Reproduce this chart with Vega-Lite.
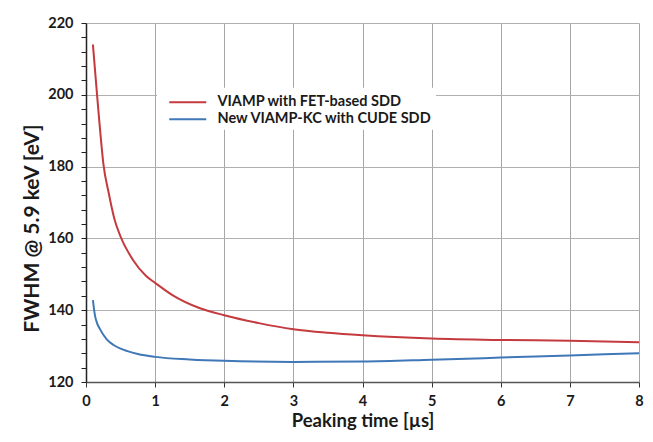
{
  "$schema": "https://vega.github.io/schema/vega-lite/v6.json",
  "width": 553,
  "height": 359,
  "autosize": "none",
  "padding": {"left": 86, "top": 23, "right": 14, "bottom": 60},
  "background": "white",
  "config": {
    "view": {"stroke": null},
    "font": "Lato",
    "axis": {"labelFont": "Lato", "titleFont": "Lato", "labelFontWeight": "bold", "titleFontWeight": "bold", "labelColor": "#1a1a1a", "titleColor": "#1a1a1a"}
  },
  "data": {"values": [
    {"t": 0.1, "fwhm": 214.0, "s": "VIAMP with FET-based SDD"},
    {"t": 0.16, "fwhm": 200.0, "s": "VIAMP with FET-based SDD"},
    {"t": 0.2, "fwhm": 191.0, "s": "VIAMP with FET-based SDD"},
    {"t": 0.25, "fwhm": 181.0, "s": "VIAMP with FET-based SDD"},
    {"t": 0.33, "fwhm": 172.5, "s": "VIAMP with FET-based SDD"},
    {"t": 0.41, "fwhm": 165.5, "s": "VIAMP with FET-based SDD"},
    {"t": 0.5, "fwhm": 160.5, "s": "VIAMP with FET-based SDD"},
    {"t": 0.68, "fwhm": 154.0, "s": "VIAMP with FET-based SDD"},
    {"t": 0.87, "fwhm": 149.5, "s": "VIAMP with FET-based SDD"},
    {"t": 1.0, "fwhm": 147.6, "s": "VIAMP with FET-based SDD"},
    {"t": 1.25, "fwhm": 144.2, "s": "VIAMP with FET-based SDD"},
    {"t": 1.64, "fwhm": 140.6, "s": "VIAMP with FET-based SDD"},
    {"t": 2.0, "fwhm": 138.6, "s": "VIAMP with FET-based SDD"},
    {"t": 2.5, "fwhm": 136.4, "s": "VIAMP with FET-based SDD"},
    {"t": 3.0, "fwhm": 134.7, "s": "VIAMP with FET-based SDD"},
    {"t": 3.5, "fwhm": 133.7, "s": "VIAMP with FET-based SDD"},
    {"t": 4.0, "fwhm": 133.0, "s": "VIAMP with FET-based SDD"},
    {"t": 5.0, "fwhm": 132.1, "s": "VIAMP with FET-based SDD"},
    {"t": 6.0, "fwhm": 131.7, "s": "VIAMP with FET-based SDD"},
    {"t": 7.0, "fwhm": 131.5, "s": "VIAMP with FET-based SDD"},
    {"t": 8.0, "fwhm": 131.1, "s": "VIAMP with FET-based SDD"},
    {"t": 0.1, "fwhm": 142.8, "s": "New VIAMP-KC with CUDE SDD"},
    {"t": 0.13, "fwhm": 138.5, "s": "New VIAMP-KC with CUDE SDD"},
    {"t": 0.16, "fwhm": 136.4, "s": "New VIAMP-KC with CUDE SDD"},
    {"t": 0.2, "fwhm": 134.8, "s": "New VIAMP-KC with CUDE SDD"},
    {"t": 0.3, "fwhm": 131.9, "s": "New VIAMP-KC with CUDE SDD"},
    {"t": 0.4, "fwhm": 130.3, "s": "New VIAMP-KC with CUDE SDD"},
    {"t": 0.5, "fwhm": 129.3, "s": "New VIAMP-KC with CUDE SDD"},
    {"t": 0.6, "fwhm": 128.6, "s": "New VIAMP-KC with CUDE SDD"},
    {"t": 0.75, "fwhm": 127.8, "s": "New VIAMP-KC with CUDE SDD"},
    {"t": 1.0, "fwhm": 127.0, "s": "New VIAMP-KC with CUDE SDD"},
    {"t": 1.5, "fwhm": 126.3, "s": "New VIAMP-KC with CUDE SDD"},
    {"t": 2.0, "fwhm": 125.9, "s": "New VIAMP-KC with CUDE SDD"},
    {"t": 3.0, "fwhm": 125.6, "s": "New VIAMP-KC with CUDE SDD"},
    {"t": 4.0, "fwhm": 125.7, "s": "New VIAMP-KC with CUDE SDD"},
    {"t": 5.0, "fwhm": 126.2, "s": "New VIAMP-KC with CUDE SDD"},
    {"t": 6.0, "fwhm": 126.8, "s": "New VIAMP-KC with CUDE SDD"},
    {"t": 7.0, "fwhm": 127.4, "s": "New VIAMP-KC with CUDE SDD"},
    {"t": 8.0, "fwhm": 128.0, "s": "New VIAMP-KC with CUDE SDD"}
  ]},
  "mark": {"type": "line", "interpolate": "monotone", "strokeWidth": 2},
  "encoding": {
    "x": {
      "field": "t", "type": "quantitative",
      "scale": {"domain": [0, 8], "nice": false},
      "axis": {
        "title": "Peaking time [µs]", "titleFontSize": 18.5, "titlePadding": 4,
        "values": [0, 1, 2, 3, 4, 5, 6, 7, 8], "format": "d",
        "labelFontSize": 14.5, "labelPadding": 7, "tickSize": 5, "tickColor": "#333", "domainColor": "#555", "domainWidth": 1.5,
        "gridColor": "#a6a6a6", "gridWidth": 1, "labelFlush": false
      }
    },
    "y": {
      "field": "fwhm", "type": "quantitative",
      "scale": {"domain": [120, 220], "nice": false, "zero": false},
      "axis": {
        "title": "FWHM @ 5.9 keV [eV]", "titleFontSize": 21, "titleX": -54, "titleY": 205, "titleBaseline": "middle", "titleAlign": "center",
        "values": [120, 124, 128, 132, 136, 140, 144, 148, 152, 156, 160, 164, 168, 172, 176, 180, 184, 188, 192, 196, 200, 204, 208, 212, 216, 220],
        "labelExpr": "datum.value % 20 === 0 ? datum.label : ''",
        "labelFontSize": 14.5, "labelPadding": 8, "tickSize": 5, "tickColor": "#222", "domainColor": "#222", "domainWidth": 1.5,
        "gridColor": "#b0b0b0", "gridWidth": 1,
        "gridOpacity": {"condition": {"test": "datum.value % 20 === 0", "value": 1}, "value": 0},
        "labelFlush": false
      }
    },
    "color": {
      "field": "s", "type": "nominal",
      "scale": {"domain": ["VIAMP with FET-based SDD", "New VIAMP-KC with CUDE SDD"], "range": ["#c43a3e", "#3f77b7"]},
      "legend": {
        "title": null, "orient": "none", "legendX": 71, "legendY": 64.75,
        "fillColor": "white", "padding": 4, "symbolOffset": 16.25, "symbolType": "M-2,0H2", "symbolSize": 342, "symbolStrokeWidth": 2,
        "labelFont": "Lato", "labelFontWeight": "bold", "labelFontSize": 14.5, "labelColor": "#1a1a1a", "labelOffset": 19.25, "labelLimit": 400, "rowPadding": 0
      }
    }
  }
}
